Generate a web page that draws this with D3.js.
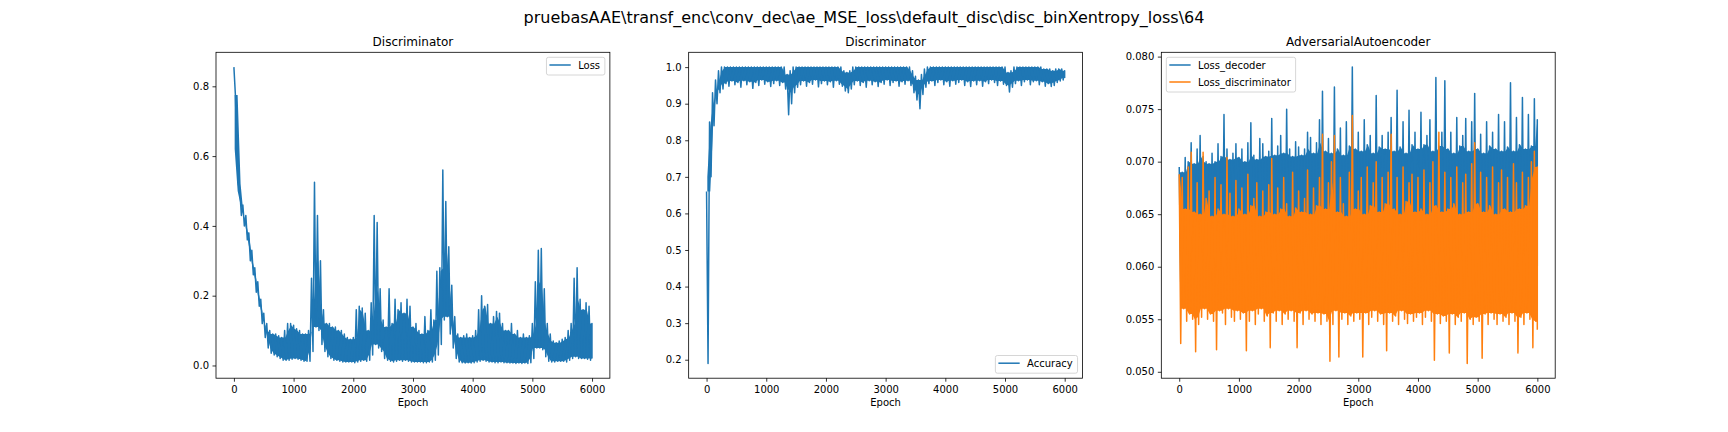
<!DOCTYPE html>
<html>
<head>
<meta charset="utf-8">
<script src="https://cdn.jsdelivr.net/npm/d3@7"></script>
<style>
  body { margin: 0; background: #fff; }
  text { font-family: "DejaVu Sans", sans-serif; fill: #000; }
</style>
</head>
<body>
<svg id="fig" width="1728" height="432"></svg>
<script>
// epochs of each 50-epoch bin; every bin keeps the high and low value
const binEpochs = d3.range(0, 6001, 50);

const lossHi = [
  .855,.62,.50,.46,.43,.38,.33,.28,.24,.19,
  .15,.12,.10,.09,.09,.085,.08,.10,.12,.12,
  .115,.105,.10,.09,.09,.10,.25,.525,.43,.30,
  .16,.12,.12,.11,.11,.10,.10,.09,.08,.075,
  .08,.16,.17,.165,.15,.10,.18,.43,.41,.22,
  .13,.11,.22,.12,.19,.16,.18,.15,.19,.17,
  .11,.12,.10,.09,.14,.10,.16,.13,.27,.28,
  .56,.47,.34,.23,.14,.09,.08,.085,.09,.08,
  .085,.10,.16,.20,.17,.175,.12,.14,.155,.15,
  .12,.10,.10,.12,.09,.10,.08,.09,.08,.085,
  .12,.24,.33,.335,.22,.12,.09,.07,.065,.07,
  .075,.08,.10,.12,.25,.28,.19,.16,.18,.17,
  .12
];
const lossLo = [
  .775,.52,.43,.40,.36,.30,.26,.21,.17,.12,
  .08,.05,.035,.03,.025,.02,.015,.015,.015,.018,
  .02,.018,.015,.012,.012,.012,.04,.11,.10,.06,
  .04,.025,.02,.015,.015,.012,.01,.01,.01,.01,
  .008,.01,.012,.015,.012,.015,.03,.06,.05,.04,
  .02,.015,.012,.01,.012,.015,.012,.015,.012,.01,
  .01,.01,.01,.008,.008,.01,.01,.015,.03,.06,
  .13,.14,.09,.05,.02,.01,.008,.007,.008,.007,
  .008,.01,.012,.015,.012,.01,.01,.008,.008,.01,
  .008,.008,.007,.007,.006,.007,.006,.007,.006,.008,
  .02,.05,.05,.045,.025,.012,.01,.01,.012,.012,
  .012,.01,.015,.02,.025,.02,.02,.02,.018,.015,
  .02
];

const accHi = [
  .66,.85,.93,.965,.99,1,1,1,1,1,
  1,1,1,1,1,1,1,1,1,1,
  1,1,1,1,1,1,1,.98,.99,1,
  1,1,1,1,1,1,1,1,1,1,
  1,1,1,1,1,1,.99,.985,.99,1,
  1,1,1,1,1,1,1,1,1,1,
  1,1,1,1,1,1,1,1,1,.99,
  .975,.965,.98,.995,1,1,1,1,1,1,
  1,1,1,1,1,1,1,1,1,1,
  1,1,1,1,1,1,1,1,1,1,
  1,.985,.99,1,1,1,1,1,1,1,
  1,1,1,.995,.995,.995,.99,.995,.995,.995,
  .99
];
const accLo = [
  .19,.70,.84,.90,.93,.94,.955,.948,.962,.952,
  .958,.945,.963,.952,.96,.942,.958,.95,.965,.953,
  .96,.947,.955,.963,.95,.958,.94,.87,.90,.93,
  .945,.952,.962,.948,.958,.953,.965,.946,.955,.962,
  .952,.96,.945,.963,.953,.948,.935,.93,.94,.952,
  .962,.95,.958,.945,.963,.952,.96,.947,.958,.953,
  .965,.95,.958,.962,.948,.96,.953,.963,.95,.93,
  .91,.886,.925,.945,.955,.962,.95,.958,.965,.952,
  .96,.948,.963,.953,.958,.965,.95,.96,.947,.962,
  .952,.963,.948,.96,.955,.965,.958,.95,.962,.953,
  .95,.932,.945,.955,.963,.95,.96,.965,.952,.96,
  .963,.952,.96,.948,.955,.947,.95,.958,.962,.965,
  .97
];

const decHi = [
  .0695,.0690,.0704,.0700,.0718,.0698,.0712,.0725,.0705,.0700,
  .0698,.0708,.0700,.0717,.0705,.0745,.0712,.0702,.0708,.0717,
  .0704,.0712,.0700,.0718,.0737,.0706,.0702,.0722,.0717,.0705,
  .0710,.0741,.0706,.0715,.0725,.0708,.0750,.0712,.0705,.0719,
  .0714,.0706,.0712,.0728,.0723,.0708,.0718,.0740,.0767,.0710,
  .0722,.0708,.0771,.0712,.0732,.0706,.0738,.0715,.0790,.0712,
  .0728,.0710,.0740,.0716,.0725,.0708,.0763,.0714,.0725,.0712,
  .0728,.0742,.0710,.0768,.0714,.0738,.0708,.0749,.0716,.0728,
  .0712,.0747,.0716,.0725,.0740,.0710,.0780,.0715,.0728,.0777,
  .0712,.0728,.0708,.0742,.0715,.0725,.0741,.0710,.0738,.0765,
  .0712,.0726,.0708,.0738,.0715,.0728,.0712,.0745,.0710,.0738,
  .0714,.0775,.0710,.0742,.0716,.0761,.0712,.0745,.0715,.0760,
  .0740
];
const decLo = [
  .0585,.0600,.0595,.0605,.0592,.0600,.0598,.0606,.0594,.0602,
  .0598,.0604,.0596,.0602,.0600,.0594,.0606,.0598,.0602,.0596,
  .0600,.0596,.0604,.0598,.0602,.0600,.0595,.0604,.0598,.0602,
  .0596,.0602,.0600,.0594,.0604,.0598,.0602,.0596,.0600,.0604,
  .0598,.0602,.0596,.0604,.0600,.0598,.0602,.0595,.0604,.0600,
  .0596,.0602,.0600,.0598,.0604,.0596,.0602,.0600,.0598,.0604,
  .0600,.0596,.0602,.0598,.0604,.0600,.0596,.0602,.0598,.0600,
  .0604,.0598,.0602,.0596,.0600,.0604,.0598,.0602,.0600,.0596,
  .0602,.0598,.0604,.0600,.0596,.0602,.0598,.0604,.0600,.0598,
  .0596,.0602,.0600,.0604,.0598,.0602,.0596,.0600,.0604,.0598,
  .0600,.0602,.0596,.0604,.0598,.0600,.0602,.0596,.0604,.0600,
  .0598,.0602,.0600,.0596,.0604,.0598,.0602,.0600,.0596,.0602,
  .0600
];

const discHi = [
  .0688,.0685,.0655,.0695,.0709,.0652,.0680,.0650,.0709,.0665,
  .0672,.0648,.0685,.0655,.0678,.0650,.0704,.0670,.0648,.0682,
  .0655,.0675,.0650,.0688,.0658,.0665,.0680,.0648,.0672,.0652,
  .0678,.0703,.0650,.0675,.0655,.0685,.0660,.0648,.0690,.0656,
  .0672,.0652,.0665,.0692,.0650,.0675,.0658,.0685,.0726,.0655,
  .0680,.0700,.0725,.0652,.0685,.0660,.0648,.0690,.0744,.0655,
  .0672,.0685,.0650,.0695,.0658,.0680,.0700,.0652,.0685,.0660,
  .0690,.0726,.0655,.0685,.0650,.0695,.0662,.0680,.0688,.0652,
  .0685,.0655,.0692,.0650,.0680,.0700,.0658,.0728,.0652,.0690,
  .0655,.0685,.0660,.0695,.0650,.0680,.0688,.0652,.0698,.0718,
  .0660,.0690,.0652,.0685,.0658,.0695,.0650,.0680,.0692,.0655,
  .0685,.0652,.0698,.0680,.0655,.0690,.0658,.0685,.0700,.0710,
  .0695
];
const discLo = [
  .0527,.0560,.0548,.0555,.0550,.0519,.0545,.0552,.0560,.0550,
  .0555,.0548,.0521,.0558,.0556,.0545,.0560,.0552,.0548,.0558,
  .0550,.0556,.0520,.0548,.0558,.0545,.0555,.0560,.0548,.0553,
  .0523,.0556,.0548,.0558,.0545,.0555,.0550,.0558,.0548,.0523,
  .0556,.0545,.0558,.0550,.0555,.0548,.0556,.0545,.0555,.0548,
  .0510,.0545,.0558,.0514,.0550,.0556,.0545,.0553,.0548,.0556,
  .0550,.0514,.0556,.0545,.0552,.0558,.0548,.0555,.0545,.0520,
  .0556,.0548,.0553,.0545,.0558,.0550,.0546,.0555,.0548,.0552,
  .0556,.0545,.0552,.0558,.0548,.0511,.0555,.0546,.0553,.0548,
  .0518,.0555,.0545,.0552,.0548,.0556,.0508,.0550,.0545,.0552,
  .0548,.0513,.0555,.0545,.0556,.0550,.0545,.0555,.0548,.0552,
  .0545,.0556,.0548,.0518,.0552,.0545,.0556,.0550,.0523,.0548,
  .0540
];

const xTicks = [0, 1000, 2000, 3000, 4000, 5000, 6000];
const lossTicks = [0, 0.2, 0.4, 0.6, 0.8];
const accTicks = [0.2, 0.3, 0.4, 0.5, 0.6, 0.7, 0.8, 0.9, 1.0];
const aaeTicks = [0.050, 0.055, 0.060, 0.065, 0.070, 0.075, 0.080];

const suptitle = "pruebasAAE\\transf_enc\\conv_dec\\ae_MSE_loss\\default_disc\\disc_binXentropy_loss\\64";
const blue = "#1f77b4", orange = "#ff7f0e";

const svg = d3.select("#fig");
const W = 1728, axTop = 52.3, axBottom = 378.2;
const axW = 1339.2 / 3.4, gap = axW * 0.2;

svg.append("text")
  .attr("x", W / 2).attr("y", 23.3)
  .attr("text-anchor", "middle")
  .style("font-size", "16px")
  .text(suptitle);

// turn each bin's (high, low) pair into a zig-zag line, like the raw per-epoch curve
function zigzag(hi, lo) {
  const pts = [];
  binEpochs.forEach((e, i) => {
    pts.push([Math.min(e, 5999), hi[i]]);
    pts.push([Math.min(e + 25, 5999), lo[i]]);
  });
  return pts;
}

// the solid core of the band: where neighbouring bins overlap
function core(hi, lo) {
  return binEpochs.map((e, i) => {
    const nb = [i - 1, i, i + 1].filter(j => j >= 0 && j < hi.length);
    return [Math.min(e + 12.5, 5999), d3.max(nb, j => lo[j]), d3.min(nb, j => hi[j])];
  });
}

function panel(idx, cfg) {
  const left = 216 + idx * (axW + gap);
  const g = svg.append("g");

  const x = d3.scaleLinear().domain([-300, 6299]).range([left, left + axW]);
  const allVals = cfg.series.flatMap(s => s.hi.concat(s.lo));
  const [mn, mx] = d3.extent(allVals);
  const pad = (mx - mn) * 0.05;
  const y = d3.scaleLinear().domain([mn - pad, mx + pad]).range([axBottom, axTop]);

  const clipId = "clip" + idx;
  g.append("clipPath").attr("id", clipId)
    .append("rect").attr("x", left).attr("y", axTop)
    .attr("width", axW).attr("height", axBottom - axTop);

  const line = d3.line().x(d => x(d[0])).y(d => y(d[1]));
  const area = d3.area().x(d => x(d[0])).y0(d => y(d[1])).y1(d => y(d[2]));
  cfg.series.forEach(s => {
    const sg = g.append("g").attr("clip-path", "url(#" + clipId + ")");
    sg.append("path")
      .datum(core(s.hi, s.lo))
      .attr("fill", s.color)
      .attr("d", area);
    sg.append("path")
      .datum(zigzag(s.hi, s.lo))
      .attr("fill", "none")
      .attr("stroke", s.color)
      .attr("stroke-width", 1.5)
      .attr("stroke-linejoin", "round")
      .attr("d", line);
  });

  // axes
  const xAxis = g.append("g").attr("transform", `translate(0,${axBottom})`)
    .call(d3.axisBottom(x).tickValues(xTicks).tickFormat(d3.format("d"))
      .tickSizeOuter(0).tickSize(3.5).tickPadding(4.5));
  const yAxis = g.append("g").attr("transform", `translate(${left},0)`)
    .call(d3.axisLeft(y).tickValues(cfg.yTicks).tickFormat(d3.format(cfg.yFmt))
      .tickSizeOuter(0).tickSize(3.5).tickPadding(3.5));
  [xAxis, yAxis].forEach(a => {
    a.select(".domain").remove();
    a.selectAll("line").attr("stroke", "#000").attr("stroke-width", 0.8);
    a.selectAll("text").attr("font-family", "DejaVu Sans").style("font-size", "10px").attr("fill", "#000");
  });

  g.append("rect")
    .attr("x", left).attr("y", axTop)
    .attr("width", axW).attr("height", axBottom - axTop)
    .attr("fill", "none").attr("stroke", "#000").attr("stroke-width", 0.8);

  g.append("text")
    .attr("x", left + axW / 2).attr("y", axTop - 6.3)
    .attr("text-anchor", "middle").style("font-size", "12px")
    .text(cfg.title);

  g.append("text")
    .attr("x", left + axW / 2).attr("y", 405.8)
    .attr("text-anchor", "middle").style("font-size", "10px")
    .text("Epoch");

  // legend
  const lg = g.append("g");
  const box = lg.append("rect");
  const n = cfg.series.length;
  const bh = 17.7 + 17 * (n - 1);
  let maxW = 0;
  const items = cfg.series.map((s, i) => {
    const t = lg.append("text").style("font-size", "10px").text(s.label);
    maxW = Math.max(maxW, t.node().getComputedTextLength());
    return { s, t, i };
  });
  const bw = 4 + 20 + 8 + maxW + 4.5;
  const bx = cfg.legend.endsWith("right") ? left + axW - 5 - bw : left + 5;
  const by = cfg.legend.startsWith("upper") ? axTop + 5 : axBottom - 5 - bh;
  box.attr("x", bx).attr("y", by).attr("width", bw).attr("height", bh)
    .attr("rx", 2).attr("fill", "#fff").attr("fill-opacity", 0.8)
    .attr("stroke", "#cccccc").attr("stroke-width", 0.8);
  items.forEach(({ s, t, i }) => {
    const cy = by + 7.7 + 17 * i;
    lg.append("line")
      .attr("x1", bx + 3).attr("x2", bx + 24.3)
      .attr("y1", cy).attr("y2", cy)
      .attr("stroke", s.color).attr("stroke-width", 1.5);
    t.attr("x", bx + 31.7).attr("y", cy + 3.7);
  });
}

panel(0, {
  title: "Discriminator", yTicks: lossTicks, yFmt: ".1f", legend: "upper right",
  series: [{ hi: lossHi, lo: lossLo, color: blue, label: "Loss" }]
});
panel(1, {
  title: "Discriminator", yTicks: accTicks, yFmt: ".1f", legend: "lower right",
  series: [{ hi: accHi, lo: accLo, color: blue, label: "Accuracy" }]
});
panel(2, {
  title: "AdversarialAutoencoder", yTicks: aaeTicks, yFmt: ".3f", legend: "upper left",
  series: [
    { hi: decHi, lo: decLo, color: blue, label: "Loss_decoder" },
    { hi: discHi, lo: discLo, color: orange, label: "Loss_discriminator" }
  ]
});
</script>
</body>
</html>
